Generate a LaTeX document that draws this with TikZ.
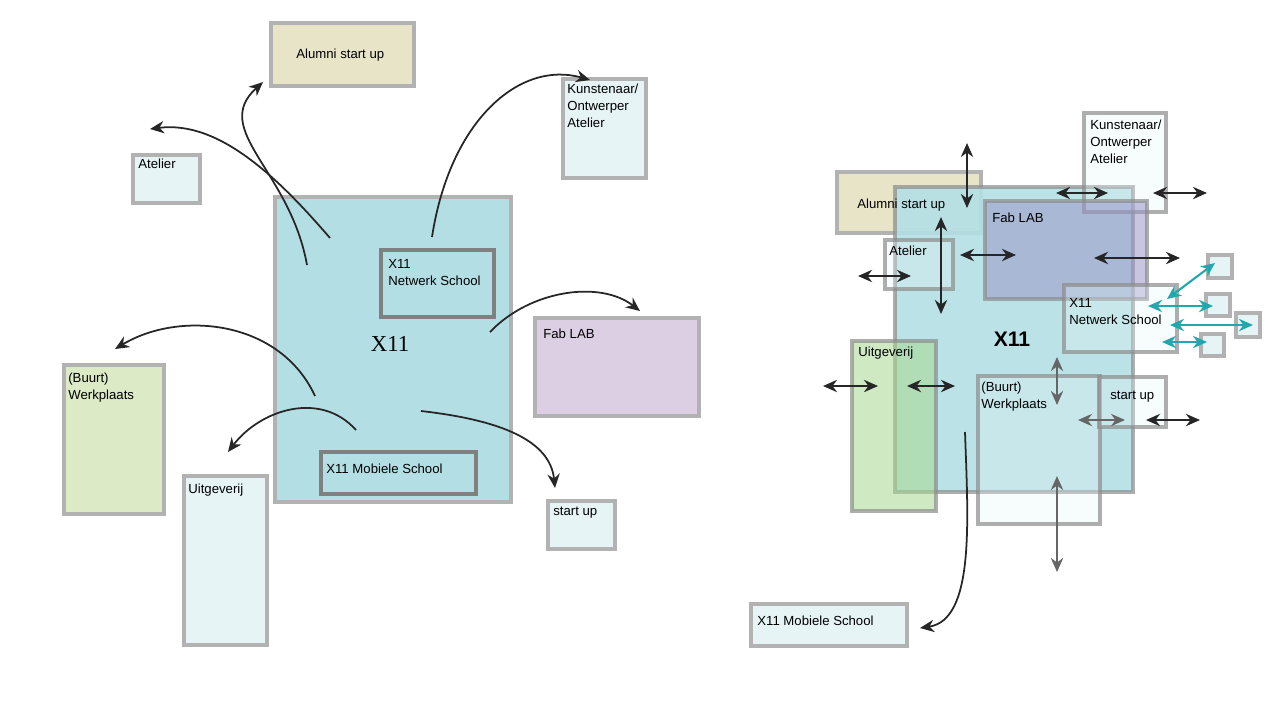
\documentclass[tikz,border=0pt]{standalone}
\usepackage{fontspec}
\setmainfont{Liberation Sans}
\newfontfamily\serifx{Liberation Serif}
\usetikzlibrary{arrows.meta}
\definecolor{xblue}{HTML}{B3DFE4}
\definecolor{xlight}{HTML}{E6F4F6}
\definecolor{xbeige}{HTML}{E8E4C8}
\definecolor{xpurple}{HTML}{DCCFE4}
\definecolor{xfab}{HTML}{9A96C8}
\definecolor{xgreen}{HTML}{DCEBC6}
\definecolor{xgreenR}{HTML}{A8D890}
\definecolor{xteal}{HTML}{20A8AC}
\tikzset{
  box/.style={draw=black!30, line width=2.3pt},
  dark/.style={draw=black!50},
  see/.style={draw=black!45, draw opacity=0.7, fill opacity=0.55},
  pale/.style={see, fill=xlight, fill opacity=0.3},
  lbl/.style={anchor=north west, inner sep=0pt, font=\fontsize{7.5}{9.5}\selectfont, align=left},
  flow/.style={-{Stealth[length=8pt,width=7pt]}, line width=1pt, black!85},
  two/.style={{Stealth[length=8pt,width=7pt]}-{Stealth[length=8pt,width=7pt]}, line width=1.2pt, black!85},
  cyan2/.style={two, xteal}
}
\begin{document}
\begin{tikzpicture}[x=0.02cm, y=-0.02cm]
      \useasboundingbox (0,0) rectangle (1281,711);
      % left
      \draw[box, fill=xbeige] (271,23) rectangle (414,86);
      \node[lbl] (alumniL) at (296,49) {Alumni start up};
      \draw[box, fill=xlight] (563,79) rectangle (646,178);
      \node[lbl] (kunstL) at (567,84) {Kunstenaar/\\Ontwerper\\Atelier};
      \draw[box, fill=xlight] (133,155) rectangle (200,203);
      \node[lbl] (atelierL) at (138,159) {Atelier};
      \draw[box, fill=xblue] (275,197) rectangle (511,502);
      \node[font=\fontsize{13}{15}\selectfont\serifx] (xL) at (390,344) {X11};
      \draw[box, dark, fill=xblue] (381,250) rectangle (494,317);
      \node[lbl] (netL) at (388,259) {X11\\Netwerk School};
      \draw[box, fill=xpurple] (535,318) rectangle (699,416);
      \node[lbl] (fabL) at (543,329) {Fab LAB};
      \draw[box, fill=xgreen] (64,365) rectangle (164,514);
      \node[lbl] (buurtL) at (68,373) {(Buurt)\\Werkplaats};
      \draw[box, fill=xlight] (184,476) rectangle (267,645);
      \node[lbl] (uitL) at (188,484) {Uitgeverij};
      \draw[box, dark, fill=xblue] (321,452) rectangle (476,494);
      \node[lbl] (mobL) at (326,464) {X11 Mobiele School};
      \draw[box, fill=xlight] (548,501) rectangle (615,549);
      \node[lbl] (startL) at (553,507) {start up};

      \draw[flow] (330,238) .. controls (280,180) and (220,120) .. (150,129);
      \draw[flow] (307,265) .. controls (290,170) and (210,130) .. (263,82);
      \draw[flow] (432,237) .. controls (450,120) and (520,60) .. (590,80);
      \draw[flow] (490,332) .. controls (530,290) and (600,280) .. (640,311);
      \draw[flow] (315,396) .. controls (280,320) and (180,310) .. (115,349);
      \draw[flow] (356,430) .. controls (320,390) and (260,410) .. (228,452);
      \draw[flow] (421,411) .. controls (500,420) and (550,440) .. (555,488);

      % right
      \draw[box, fill=xbeige] (837,172) rectangle (981,233);
      \draw[box, see, fill=xblue, fill opacity=0.9] (895,187) rectangle (1133,492);
      \draw[box, pale] (1084,113) rectangle (1166,212);
      \draw[box, see, fill=xfab] (985,201) rectangle (1147,299);
      \draw[box, pale] (885,240) rectangle (953,289);
      \draw[box, pale] (1064,285) rectangle (1177,352);
      \draw[box, see, fill=xgreenR] (852,341) rectangle (936,511);
      \draw[box, pale] (978,376) rectangle (1100,524);
      \draw[box, pale] (1099,377) rectangle (1166,427);
      \draw[box, fill=xlight] (1208,255) rectangle (1232,278);
      \draw[box, fill=xlight] (1206,294) rectangle (1230,316);
      \draw[box, fill=xlight] (1236,313) rectangle (1260,337);
      \draw[box, fill=xlight] (1201,334) rectangle (1224,356);
      \draw[box, fill=xlight] (751,604) rectangle (907,646);
      \node[lbl] (alumniR) at (857,199) {Alumni start up};
      \node[lbl] (kunstR) at (1090,120) {Kunstenaar/\\Ontwerper\\Atelier};
      \node[lbl] (fabR) at (992,213) {Fab LAB};
      \node[lbl] (atelierR) at (889,246) {Atelier};
      \node[lbl] (netR) at (1069,298) {X11\\Netwerk School};
      \node[font=\fontsize{12}{14}\selectfont\bfseries] (xR) at (1012,339) {X11};
      \node[lbl] (uitR) at (858,347) {Uitgeverij};
      \node[lbl] (buurtR) at (981,382) {(Buurt)\\Werkplaats};
      \node[lbl] (startR) at (1110,391) {start up};
      \node[lbl] (mobR) at (757,616) {X11 Mobiele School};

      \draw[two] (967,143) -- (967,208);
      \draw[two] (941,217) -- (941,314);
      \draw[two] (1056,193) -- (1108,193);
      \draw[two] (1153,193) -- (1207,193);
      \draw[two] (960,255) -- (1016,255);
      \draw[two] (858,276) -- (911,276);
      \draw[two] (1094,258) -- (1180,258);
      \draw[two] (823,386) -- (878,386);
      \draw[two] (907,386) -- (955,386);
      \draw[two, black!60] (1057,357) -- (1057,405);
      \draw[two, black!60] (1078,420) -- (1125,420);
      \draw[two] (1146,420) -- (1200,420);
      \draw[two, black!60] (1057,476) -- (1057,572);
      \draw[cyan2] (1167,299) -- (1215,263);
      \draw[cyan2] (1148,306) -- (1213,306);
      \draw[cyan2] (1170,325) -- (1253,325);
      \draw[cyan2] (1162,342) -- (1207,342);
      \draw[flow] (965,432) .. controls (968,520) and (975,620) .. (920,628);
\end{tikzpicture}
\end{document}
